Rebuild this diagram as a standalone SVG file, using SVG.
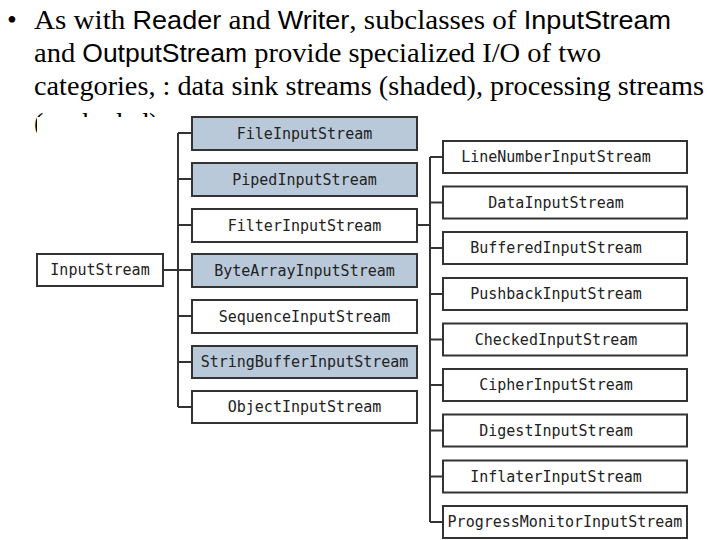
<svg xmlns="http://www.w3.org/2000/svg" width="720" height="540" viewBox="0 0 720 540">
<style>
.t{font-family:"Liberation Serif","Times New Roman",serif;font-size:28px;fill:#000}
.s{font-family:"Liberation Sans",Arial,sans-serif;font-size:26px}
.box{fill:#fff;stroke:#333;stroke-width:2}
.sh{fill:#b9c9d9}
.lbl{font-family:"DejaVu Sans Mono","Liberation Mono",monospace;font-size:15px;fill:#222;text-anchor:middle}
.con{stroke:#333;stroke-width:2;fill:none}
</style>
<rect width="720" height="540" fill="#fff"/>
<g id="caption">
<text class="t" x="7" y="29">•</text>
<text class="t" x="34" y="29" textLength="637" lengthAdjust="spacingAndGlyphs">As with <tspan class="s">Reader</tspan> and <tspan class="s">Writer</tspan>, subclasses of <tspan class="s">InputStream</tspan></text>
<text class="t" x="34" y="62" textLength="567" lengthAdjust="spacingAndGlyphs">and <tspan class="s">OutputStream</tspan> provide specialized I/O of two</text>
<text class="t" x="34" y="95" textLength="670" lengthAdjust="spacingAndGlyphs">categories, : data sink streams (shaded), processing streams</text>
<text class="t" x="34" y="132">(unshaded)</text>
</g>
<rect x="37" y="117" width="683" height="423" fill="#fff"/>
<g id="connectors">
<path class="con" d="M163 270H192 M178 133V407 M178 133H192 M178 179H192 M178 225H192 M178 316H192 M178 362H192 M178 407H192"/>
<path class="con" d="M417 225H430 M430 157V522 M430 157H443 M430 202.5H443 M430 248H443 M430 294H443 M430 339.5H443 M430 385H443 M430 430.5H443 M430 476.5H443 M430 522H443"/>
</g>
<g id="InputStream"><rect class="box" x="37" y="254" width="126" height="32"/><text class="lbl" x="100" y="275">InputStream</text></g>
<g id="FileInputStream"><rect class="box sh" x="192" y="117" width="225" height="33"/><text class="lbl" x="304.5" y="138.5">FileInputStream</text></g>
<g id="PipedInputStream"><rect class="box sh" x="192" y="163" width="225" height="33"/><text class="lbl" x="304.5" y="184.5">PipedInputStream</text></g>
<g id="FilterInputStream"><rect class="box" x="192" y="209" width="225" height="33"/><text class="lbl" x="304.5" y="230.5">FilterInputStream</text></g>
<g id="ByteArrayInputStream"><rect class="box sh" x="192" y="254" width="225" height="33"/><text class="lbl" x="304.5" y="275.5">ByteArrayInputStream</text></g>
<g id="SequenceInputStream"><rect class="box" x="192" y="300" width="225" height="33"/><text class="lbl" x="304.5" y="321.5">SequenceInputStream</text></g>
<g id="StringBufferInputStream"><rect class="box sh" x="192" y="346" width="225" height="32"/><text class="lbl" x="304.5" y="367">StringBufferInputStream</text></g>
<g id="ObjectInputStream"><rect class="box" x="192" y="391" width="225" height="32"/><text class="lbl" x="304.5" y="412">ObjectInputStream</text></g>
<g id="LineNumberInputStream"><rect class="box" x="443" y="141" width="244" height="32"/><text class="lbl" x="556" y="162">LineNumberInputStream</text></g>
<g id="DataInputStream"><rect class="box" x="443" y="186.5" width="244" height="32"/><text class="lbl" x="556" y="207.5">DataInputStream</text></g>
<g id="BufferedInputStream"><rect class="box" x="443" y="232" width="244" height="32"/><text class="lbl" x="556" y="253">BufferedInputStream</text></g>
<g id="PushbackInputStream"><rect class="box" x="443" y="278" width="244" height="32"/><text class="lbl" x="556" y="299">PushbackInputStream</text></g>
<g id="CheckedInputStream"><rect class="box" x="443" y="323.5" width="244" height="32"/><text class="lbl" x="556" y="344.5">CheckedInputStream</text></g>
<g id="CipherInputStream"><rect class="box" x="443" y="369" width="244" height="32"/><text class="lbl" x="556" y="390">CipherInputStream</text></g>
<g id="DigestInputStream"><rect class="box" x="443" y="414.5" width="244" height="32"/><text class="lbl" x="556" y="435.5">DigestInputStream</text></g>
<g id="InflaterInputStream"><rect class="box" x="443" y="460.5" width="244" height="32"/><text class="lbl" x="556" y="481.5">InflaterInputStream</text></g>
<g id="ProgressMonitorInputStream"><rect class="box" x="443" y="506" width="244" height="32"/><text class="lbl" x="565" y="527">ProgressMonitorInputStream</text></g>
</svg>
